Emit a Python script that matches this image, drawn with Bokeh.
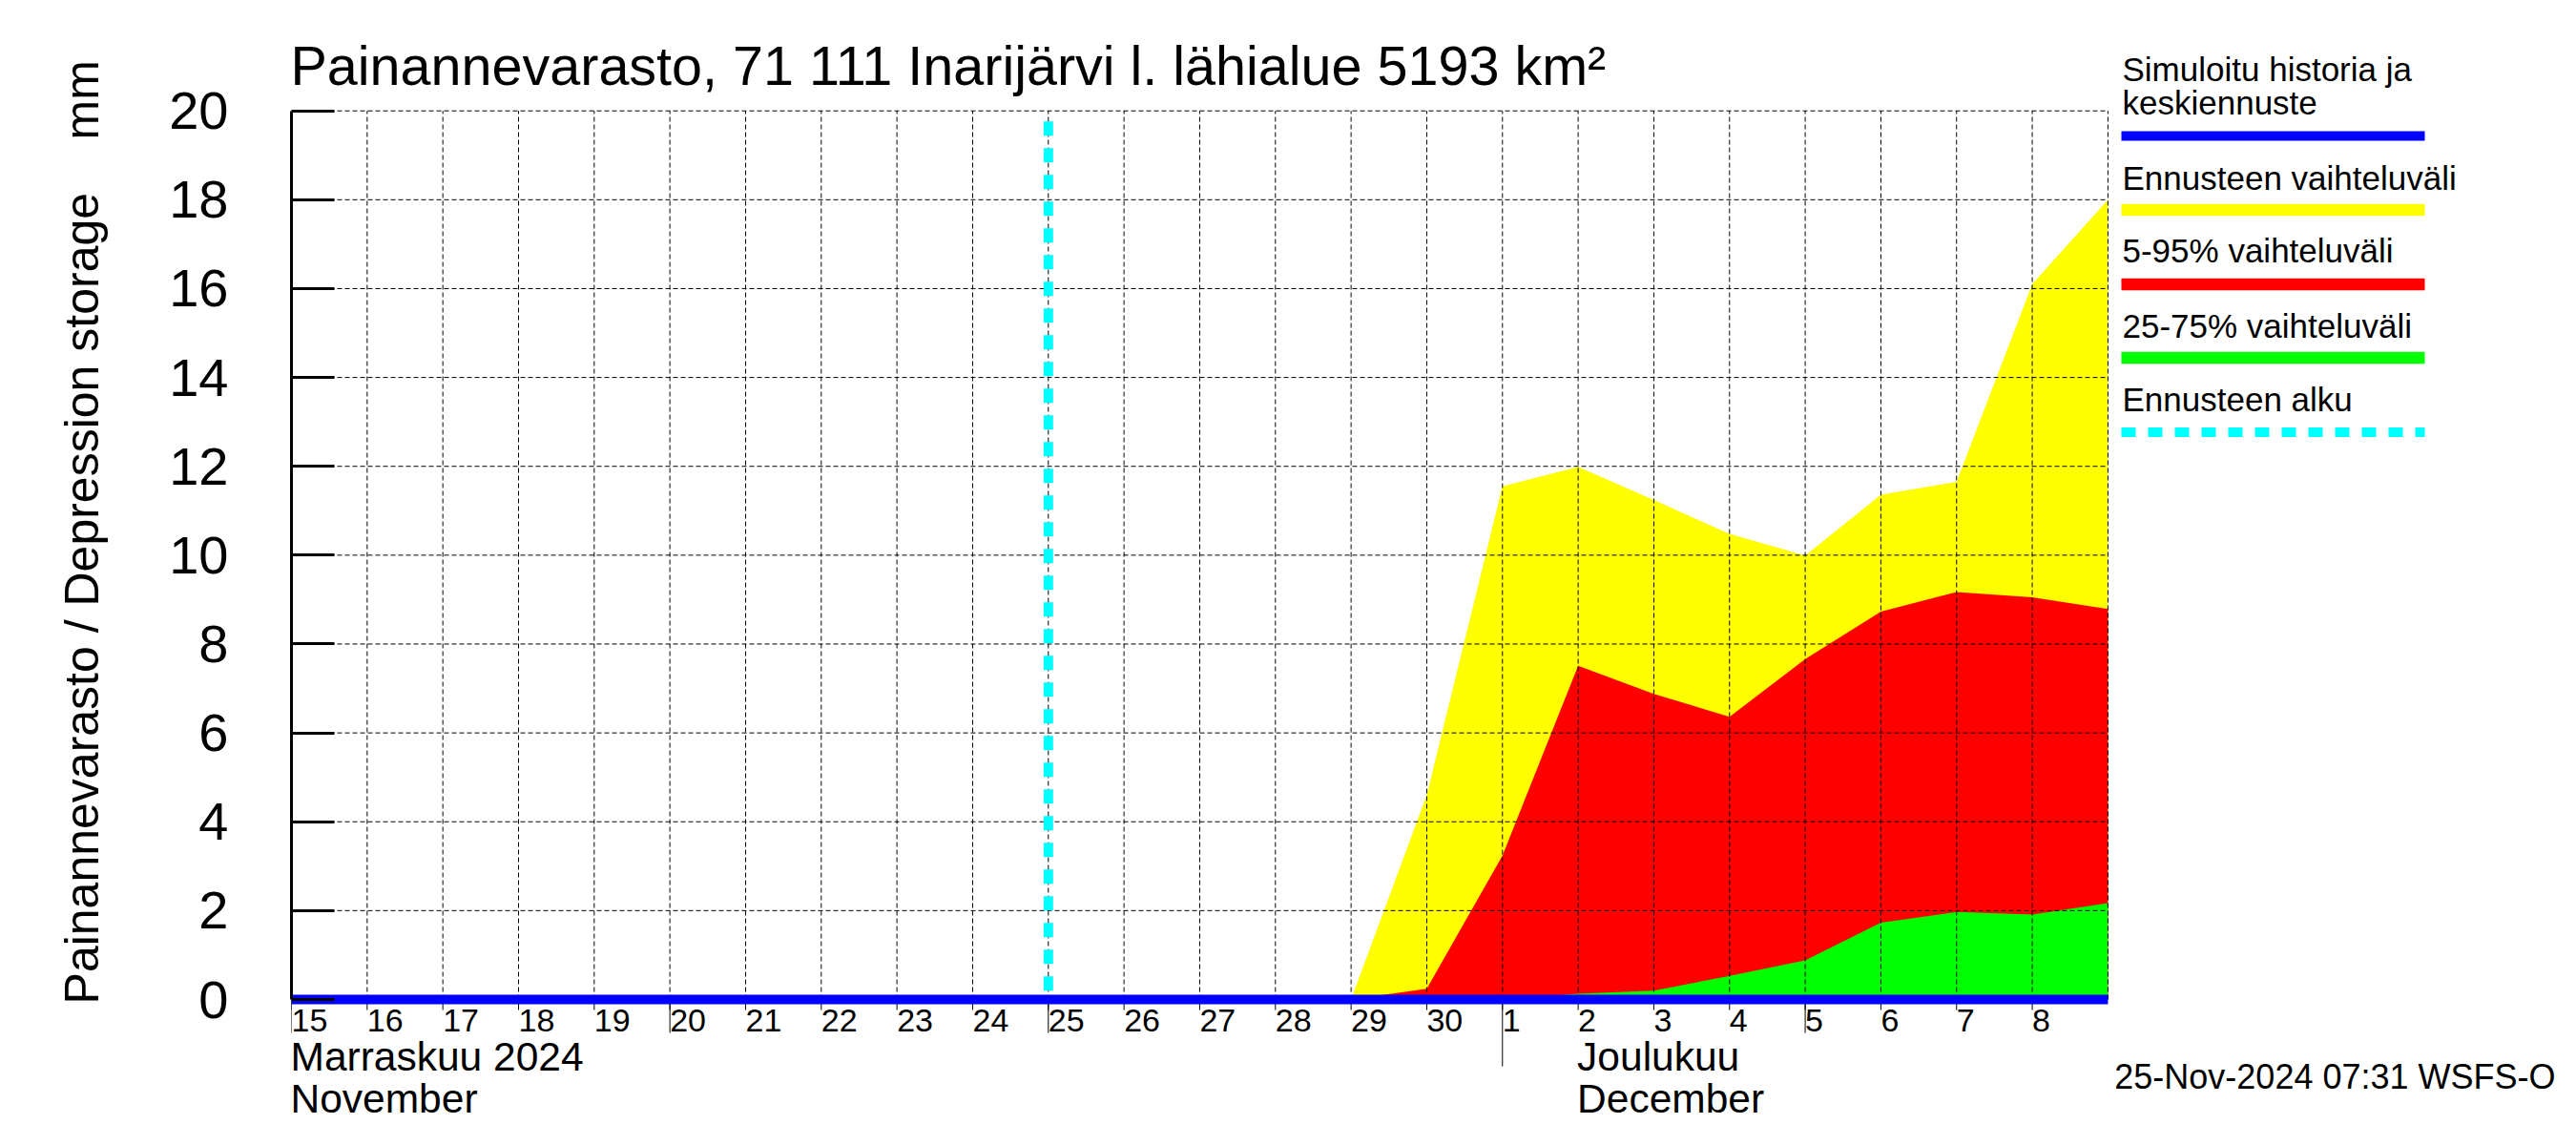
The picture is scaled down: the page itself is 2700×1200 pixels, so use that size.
import pandas as pd
from bokeh.plotting import figure
from bokeh.models import Range1d, FixedTicker
from bokeh.core.properties import value
from bokeh.embed import file_html
from bokeh.resources import INLINE

# ---------------- data ----------------
TITLE = "Painannevarasto, 71 111 Inarijärvi l. lähialue 5193 km²"
Y_LABEL = "Painannevarasto / Depression storage"
Y_UNIT = "mm"
STAMP = "25-Nov-2024 07:31 WSFS-O"

history_dates = ["2024-11-15", "2024-11-16", "2024-11-17", "2024-11-18", "2024-11-19",
                 "2024-11-20", "2024-11-21", "2024-11-22", "2024-11-23", "2024-11-24",
                 "2024-11-25"]
history_values = [0.0, 0.0, 0.0, 0.0, 0.0, 0.0, 0.0, 0.0, 0.0, 0.0, 0.0]

forecast_dates = ["2024-11-25", "2024-11-26", "2024-11-27", "2024-11-28", "2024-11-29",
                  "2024-11-30", "2024-12-01", "2024-12-02", "2024-12-03", "2024-12-04",
                  "2024-12-05", "2024-12-06", "2024-12-07", "2024-12-08", "2024-12-09"]
median_values = [0.0, 0.0, 0.0, 0.0, 0.0, 0.0, 0.0, 0.0, 0.0, 0.0, 0.0, 0.0, 0.0, 0.0, 0.0]
min_values = [0.0, 0.0, 0.0, 0.0, 0.0, 0.0, 0.0, 0.0, 0.0, 0.0, 0.0, 0.0, 0.0, 0.0, 0.0]
max_values = [0.0, 0.0, 0.0, 0.0, 0.0, 4.6, 11.55, 11.99, 11.24, 10.48, 9.99, 11.36, 11.65, 16.1, 18.0]
p05_values = [0.0, 0.0, 0.0, 0.0, 0.0, 0.0, 0.0, 0.0, 0.0, 0.0, 0.0, 0.0, 0.0, 0.0, 0.0]
p95_values = [0.0, 0.0, 0.0, 0.0, 0.0, 0.24, 3.24, 7.51, 6.88, 6.36, 7.66, 8.73, 9.17, 9.05, 8.79]
p25_values = [0.0, 0.0, 0.0, 0.0, 0.0, 0.0, 0.0, 0.0, 0.0, 0.0, 0.0, 0.0, 0.0, 0.0, 0.0]
p75_values = [0.0, 0.0, 0.0, 0.0, 0.0, 0.0, 0.0, 0.13, 0.2, 0.53, 0.88, 1.73, 1.97, 1.91, 2.17]

forecast_start = "2024-11-25"
axis_start = "2024-11-15"
axis_end = "2024-12-09"

day_tick_dates = ["2024-11-15", "2024-11-16", "2024-11-17", "2024-11-18", "2024-11-19",
                  "2024-11-20", "2024-11-21", "2024-11-22", "2024-11-23", "2024-11-24",
                  "2024-11-25", "2024-11-26", "2024-11-27", "2024-11-28", "2024-11-29",
                  "2024-11-30", "2024-12-01", "2024-12-02", "2024-12-03", "2024-12-04",
                  "2024-12-05", "2024-12-06", "2024-12-07", "2024-12-08"]
day_tick_labels = ["15", "16", "17", "18", "19", "20", "21", "22", "23", "24", "25", "26",
                   "27", "28", "29", "30", "1", "2", "3", "4", "5", "6", "7", "8"]
long_tick_dates = ["2024-11-15", "2024-11-20", "2024-11-25", "2024-12-05"]
month_start_dates = ["2024-12-01"]
month_label_dates = ["2024-11-15", "2024-12-02"]
month_labels_fi = ["Marraskuu 2024", "Joulukuu"]
month_labels_en = ["November", "December"]

y_ticks = [0, 2, 4, 6, 8, 10, 12, 14, 16, 18, 20]

legend_labels = [["Simuloitu historia ja", "keskiennuste"], ["Ennusteen vaihteluväli"],
                 ["5-95% vaihteluväli"], ["25-75% vaihteluväli"], ["Ennusteen alku"]]

# ---------------- layout (reference pixel geometry) ----------------
FONT = "Liberation Sans"
W, H = 2684, 1184
FRAME_L, FRAME_R = 305, W                # frame spans these canvas pixels
FRAME_T, FRAME_B = 0, H
X0_PX, PX_DAY = 305, 79.33               # canvas px of axis start, px per day
Y0_PX, PX_UNIT = 1047, 46.565            # canvas px of value 0, px per mm
DAY_MS = 86400000.0
K_BASE = 0.32                            # svg text baseline correction (em)


def ms(dates):
    return (pd.to_datetime(dates).astype("int64") // 10**6).to_numpy().astype(float)


def base(y, size):
    return y - K_BASE * size


x_start = ms([axis_start])[0]
x_end = ms([axis_end])[0]
x_range = Range1d(x_start, x_start + (FRAME_R - X0_PX) / PX_DAY * DAY_MS)
y_range = Range1d(-(FRAME_B - Y0_PX) / PX_UNIT, (Y0_PX - FRAME_T) / PX_UNIT)

p = figure(width=W, height=H, x_range=x_range, y_range=y_range,
           output_backend="svg", toolbar_location=None, x_axis_location=None,
           min_border_left=FRAME_L, min_border_right=0, min_border_top=0,
           min_border_bottom=0, title=None)
p.extra_x_ranges = {"px": Range1d(FRAME_L, FRAME_R)}
p.extra_y_ranges = {"py": Range1d(FRAME_B, FRAME_T)}
p.outline_line_color = None
p.grid.visible = False
p.background_fill_color = "white"
p.border_fill_color = "white"

# y axis
ya = p.yaxis[0]
ya.ticker = FixedTicker(ticks=y_ticks)
ya.bounds = (y_ticks[0], y_ticks[-1])
ya.axis_line_width = 3
ya.axis_line_color = "black"
ya.major_tick_in = 45
ya.major_tick_out = 0
ya.major_tick_line_width = 3
ya.minor_tick_line_color = None
ya.major_label_standoff = 66
ya.major_label_text_font = FONT
ya.major_label_text_font_size = "56px"
ya.major_label_text_color = "black"
ya.axis_label = "\u00a0" * 5 + Y_LABEL + "\u00a0" * 4 + Y_UNIT
ya.axis_label_text_font = FONT
ya.axis_label_text_font_size = "50px"
ya.axis_label_text_font_style = "normal"
ya.axis_label_text_color = "black"
ya.axis_label_standoff = 60

fx = ms(forecast_dates)
hx = ms(history_dates)

# bands
p.varea(x=fx, y1=min_values, y2=max_values, fill_color="#FFFF00")
p.varea(x=fx, y1=p05_values, y2=p95_values, fill_color="#FF0000")
p.varea(x=fx, y1=p25_values, y2=p75_values, fill_color="#00FF00")

# grid
grid_x = ms(day_tick_dates[1:] + [axis_end])
p.segment(x0=grid_x, y0=[y_ticks[0]] * len(grid_x), x1=grid_x, y1=[y_ticks[-1]] * len(grid_x),
          line_color="black", line_width=1, line_dash="5 3")
p.segment(x0=[x_start] * (len(y_ticks) - 1), y0=y_ticks[1:], x1=[x_end] * (len(y_ticks) - 1),
          y1=y_ticks[1:], line_color="black", line_width=1, line_dash="5 3")

# forecast start
fs = ms([forecast_start])[0]
p.line(x=[fs, fs], y=[y_ticks[-1], y_ticks[0]], line_color="#00FFFF", line_width=10,
       line_dash="15 13", line_dash_offset=17)

# x ticks below axis
tx = ms(day_tick_dates)
p.segment(x0=tx, y0=[Y0_PX] * len(tx), x1=tx, y1=[Y0_PX + 11] * len(tx),
          y_range_name="py", line_color="black", line_width=1)
lx = ms(long_tick_dates)
p.segment(x0=lx, y0=[Y0_PX] * len(lx), x1=lx, y1=[Y0_PX + 35] * len(lx),
          y_range_name="py", line_color="black", line_width=1)
mx = ms(month_start_dates)
p.segment(x0=mx, y0=[Y0_PX] * len(mx), x1=mx, y1=[Y0_PX + 70] * len(mx),
          y_range_name="py", line_color="black", line_width=1)

# simulated history + median
p.line(x=hx, y=history_values, line_color="#0000FF", line_width=10)
p.line(x=fx, y=median_values, line_color="#0000FF", line_width=10)

# x tick labels
DAY_FS, MON_FS = 34, 42.5
p.text(x=tx, y=[base(Y0_PX + 33, DAY_FS)] * len(tx), text=day_tick_labels, y_range_name="py",
       x_offset=0, text_align="left", text_baseline="alphabetic",
       text_font=value(FONT), text_font_size=f"{DAY_FS}px", text_color="black")
mlx = ms(month_label_dates)
p.text(x=mlx, y=[base(Y0_PX + 74, MON_FS)] * len(mlx), text=month_labels_fi, y_range_name="py",
       x_offset=-1, text_align="left", text_baseline="alphabetic",
       text_font=value(FONT), text_font_size=f"{MON_FS}px", text_color="black")
p.text(x=mlx, y=[base(Y0_PX + 118, MON_FS)] * len(mlx), text=month_labels_en, y_range_name="py",
       x_offset=-1, text_align="left", text_baseline="alphabetic",
       text_font=value(FONT), text_font_size=f"{MON_FS}px", text_color="black")

# title
TITLE_FS = 57.5
p.text(x=[304], y=[base(87, TITLE_FS)], text=[TITLE], x_range_name="px", y_range_name="py",
       text_align="left", text_baseline="alphabetic", text_font=value(FONT),
       text_font_size=f"{TITLE_FS}px", text_color="black")

# legend (right side)
LEG_FS = 35
LX0, LX1 = 2223, 2541
leg_text_x = 2224
leg_text_y = [[83, 118], [197], [273], [352], [429]]
leg_line_y = [142, 219.5, 297.5, 374.5, 452.5]
leg_colors = ["#0000FF", "#FFFF00", "#FF0000", "#00FF00", "#00FFFF"]
leg_widths = [10, 12.5, 12.5, 12.5, 10]
leg_dash = ["solid", "solid", "solid", "solid", "15 13"]
for labels, ys, ly, c, lw, dash in zip(legend_labels, leg_text_y, leg_line_y,
                                       leg_colors, leg_widths, leg_dash):
    p.text(x=[leg_text_x] * len(labels), y=[base(v, LEG_FS) for v in ys], text=labels,
           x_range_name="px", y_range_name="py", text_align="left",
           text_baseline="alphabetic", text_font=value(FONT),
           text_font_size=f"{LEG_FS}px", text_color="black")
    p.line(x=[LX0, LX1], y=[ly, ly], x_range_name="px", y_range_name="py",
           line_color=c, line_width=lw, line_dash=dash)

# timestamp
STAMP_FS = 36
p.text(x=[2678], y=[base(1140, STAMP_FS)], text=[STAMP], x_range_name="px", y_range_name="py",
       text_align="right", text_baseline="alphabetic", text_font=value(FONT),
       text_font_size=f"{STAMP_FS}px", text_color="black")

open("out.html", "w").write(file_html(p, INLINE))
